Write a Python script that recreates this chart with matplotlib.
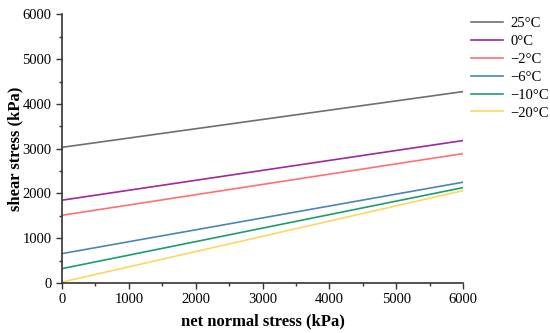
import numpy as np
import matplotlib
matplotlib.use("Agg")
import matplotlib.pyplot as plt
from matplotlib.ticker import MultipleLocator

plt.rcParams['font.family'] = ['Liberation Serif', 'DejaVu Serif']

# net normal stress (kPa), end points of each fitted line
stress = [0, 6000]
labels = ['25°C', '0°C', '\u22122°C', '\u22126°C', '\u221210°C', '\u221220°C']
shear_25 = [3030, 4275]
shear_0 = [1850, 3182]
shear_m2 = [1513, 2891]
shear_m6 = [657, 2252]
shear_m10 = [322, 2131]
shear_m20 = [22, 2065]
colors = ['#6f6f6f', '#a1269f', '#ff7073', '#4a86b8', '#1b9e6e', '#ffd65f']

fig = plt.figure(figsize=(5.5, 3.33), dpi=100)
ax = fig.add_axes([0.1127, 0.15, 0.7294, 0.807])

for s, lab, c in zip([shear_25, shear_0, shear_m2, shear_m6, shear_m10, shear_m20], labels, colors):
    ax.plot(stress, s, color=c, lw=1.2, label=lab)

ax.set_xlim(0, 6000)
ax.set_ylim(0, 6000)
ax.xaxis.set_major_locator(MultipleLocator(1000))
ax.xaxis.set_minor_locator(MultipleLocator(500))
ax.yaxis.set_major_locator(MultipleLocator(1000))
ax.yaxis.set_minor_locator(MultipleLocator(500))
ax.spines['top'].set_visible(False)
ax.spines['right'].set_visible(False)
for sp in ['left', 'bottom']:
    ax.spines[sp].set_color('#333333')
    ax.spines[sp].set_linewidth(1.2)
ax.tick_params(which='major', direction='out', length=4, width=1, colors='#333333', labelsize=10.5, labelcolor='black')
ax.tick_params(which='minor', direction='out', length=2.5, width=1, colors='#333333')
ax.set_xlabel('net normal stress (kPa)', fontsize=12, fontweight='bold')
ax.set_ylabel('shear stress (kPa)', fontsize=12, fontweight='bold')
ax.xaxis.set_label_coords(0.5, -0.112)
ax.yaxis.set_label_coords(-0.095, 0.5)

ax.legend(loc='upper left', bbox_to_anchor=(471 / 550, 1 - 17 / 333), bbox_transform=fig.transFigure,
          frameon=False, fontsize=10.5, borderpad=0, borderaxespad=0,
          handlelength=2.2, handletextpad=0.5, labelspacing=0.32)

fig.savefig('out.png', dpi=100)
